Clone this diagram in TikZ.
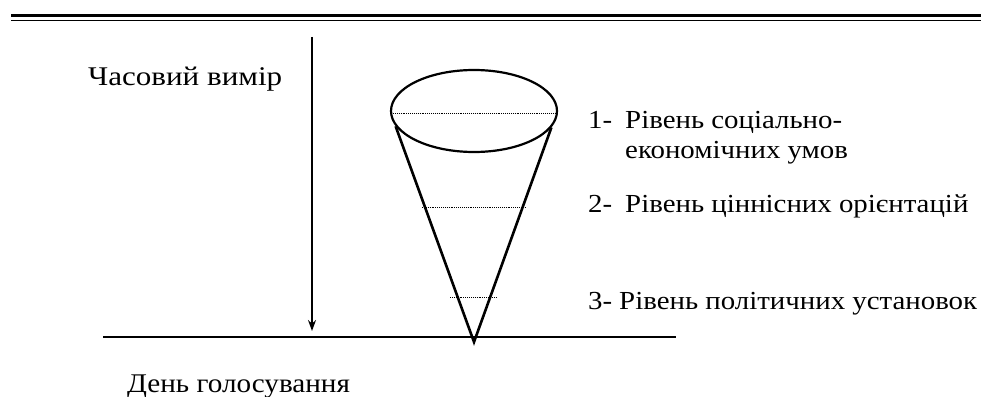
\documentclass[tikz,border=0pt]{standalone}
\usepackage{fontspec}
\setmainfont{Liberation Serif}
\newfontfamily\labfont[FakeStretch=1.15]{Liberation Serif}
\newfontfamily\lvlfont[FakeStretch=1.11]{Liberation Serif}
\newfontfamily\dayfont[FakeStretch=1.08]{Liberation Serif}
\usetikzlibrary{shapes.geometric,arrows.meta}
\newcommand{\numlab}[1]{\makebox[37pt][l]{#1}}
\begin{document}
\begin{tikzpicture}[x=1pt,y=-1pt,
  rulethick/.style={line width=2.6pt},
  rulethin/.style={line width=1.4pt},
  axis/.style={line width=1.4pt,-{Stealth[length=11pt,width=8pt]}},
  baseln/.style={line width=1.8pt},
  conepart/.style={line width=2.6pt,line join=miter},
  levelln/.style={densely dotted,line width=0.9pt},
  lab/.style={anchor=base west,inner sep=0pt,font=\labfont\fontsize{27}{30}\selectfont},
  lvl/.style={anchor=base west,inner sep=0pt,font=\lvlfont\fontsize{26}{29}\selectfont},
  day/.style={anchor=base west,inner sep=0pt,font=\dayfont\fontsize{27}{30}\selectfont}]
\useasboundingbox (0,0) rectangle (981,396);
% top double rule
\coordinate (r1a) at (11,15.5); \coordinate (r1b) at (981,15.5);
\coordinate (r2a) at (11,20.5); \coordinate (r2b) at (981,20.5);
\draw[rulethick] (r1a) -- (r1b);
\draw[rulethin] (r2a) -- (r2b);
% time axis
\coordinate (ttop) at (312,37); \coordinate (tend) at (312,331);
\draw[axis] (ttop) -- (tend);
% base line
\coordinate (b1) at (103,337); \coordinate (b2) at (676,337);
\draw[baseln] (b1) -- (b2);
% cone
\node[ellipse,draw,line width=2.2pt,minimum width=166pt,minimum height=82pt,inner sep=0pt] (top) at (474,111) {};
\coordinate (apex) at (474,342);
\draw[conepart] (top.191.8) -- (apex) -- (top.348.2);
% level lines
\coordinate (l1a) at (393,113); \coordinate (l1b) at (556,113);
\coordinate (l2a) at (422,207); \coordinate (l2b) at (525,207);
\coordinate (l3a) at (450,297); \coordinate (l3b) at (497,297);
\draw[levelln] (l1a) -- (l1b);
\draw[levelln] (l2a) -- (l2b);
\draw[levelln] (l3a) -- (l3b);
% texts
\node[lab] (time) at (88,85) {Часовий вимір};
\node[lvl] (t1) at (588,128) {\numlab{1-}Рівень соціально-};
\node[lvl] (t1b) at (625,158) {економічних умов};
\node[lvl] (t2) at (588,212) {\numlab{2-}Рівень ціннісних орієнтацій};
\node[lvl] (t3) at (588,309) {\makebox[31pt][l]{3-}Рівень політичних установок};
\node[day] (dayv) at (127,392) {День голосування};
\end{tikzpicture}
\end{document}
